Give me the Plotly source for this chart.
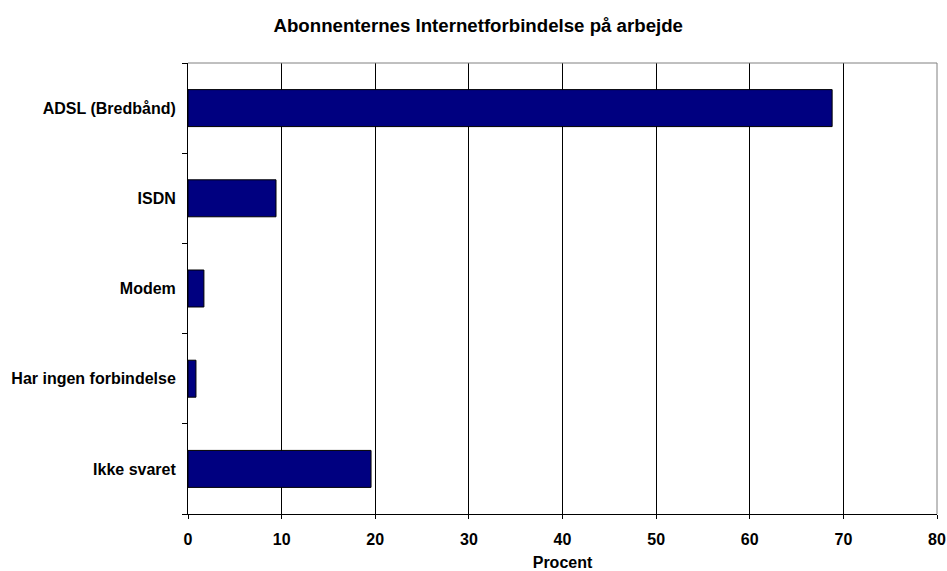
import plotly.graph_objects as go

kategorier = ["ADSL (Bredbånd)", "ISDN", "Modem", "Har ingen forbindelse", "Ikke svaret"]
procent = [68.8, 9.4, 1.7, 0.85, 19.55]
x_ticks = [0, 10, 20, 30, 40, 50, 60, 70, 80]

fig = go.Figure()

fig.add_trace(go.Bar(
    y=kategorier, x=procent, orientation="h",
    marker=dict(color="#000080", line=dict(color="#000000", width=1)),
    width=0.41,
    showlegend=False,
))

font_fam = "Liberation Sans, Arial, sans-serif"

fig.update_layout(
    width=947, height=571,
    margin=dict(l=188, r=10, t=63, b=57),
    plot_bgcolor="white", paper_bgcolor="white",
    font=dict(family=font_fam, size=16, color="black"),
    title=dict(
        text="<b>Abonnenternes Internetforbindelse på arbejde</b>",
        x=0.505, xanchor="center", y=0.956, yanchor="middle",
        font=dict(size=18.67, family=font_fam, color="black"),
    ),
    xaxis=dict(
        range=[0, 80], tickvals=x_ticks,
        ticktext=[f"<b>{v}</b>" for v in x_ticks],
        showgrid=True, gridcolor="#000000", gridwidth=1,
        showline=True, linecolor="#000000", linewidth=1,
        ticks="outside", ticklen=4, tickcolor="#000000",
        zeroline=False, automargin=False,
        ticklabelstandoff=7,
        title=dict(text="<b>Procent</b>", standoff=15, font=dict(size=16)),
        tickfont=dict(size=16),
    ),
    yaxis=dict(
        categoryorder="array", categoryarray=kategorier,
        autorange="reversed",
        ticktext=[f"<b>{k}</b>" for k in kategorier], tickvals=kategorier,
        showline=True, linecolor="#000000", linewidth=1,
        ticks="outside", tickson="boundaries", ticklen=5, tickcolor="#000000",
        showgrid=False, zeroline=False, automargin=False,
        tickfont=dict(size=16),
        ticklabelstandoff=8,
    ),
    shapes=[
        dict(type="line", xref="paper", yref="paper", x0=0, x1=1, y0=1, y1=1,
             line=dict(color="#808080", width=1)),
        dict(type="line", xref="paper", yref="paper", x0=1, x1=1, y0=0, y1=1,
             line=dict(color="#808080", width=1)),
    ],
)

fig.write_html("out.html", config={"displayModeBar": False},
               post_script="document.body.style.margin='0';")
